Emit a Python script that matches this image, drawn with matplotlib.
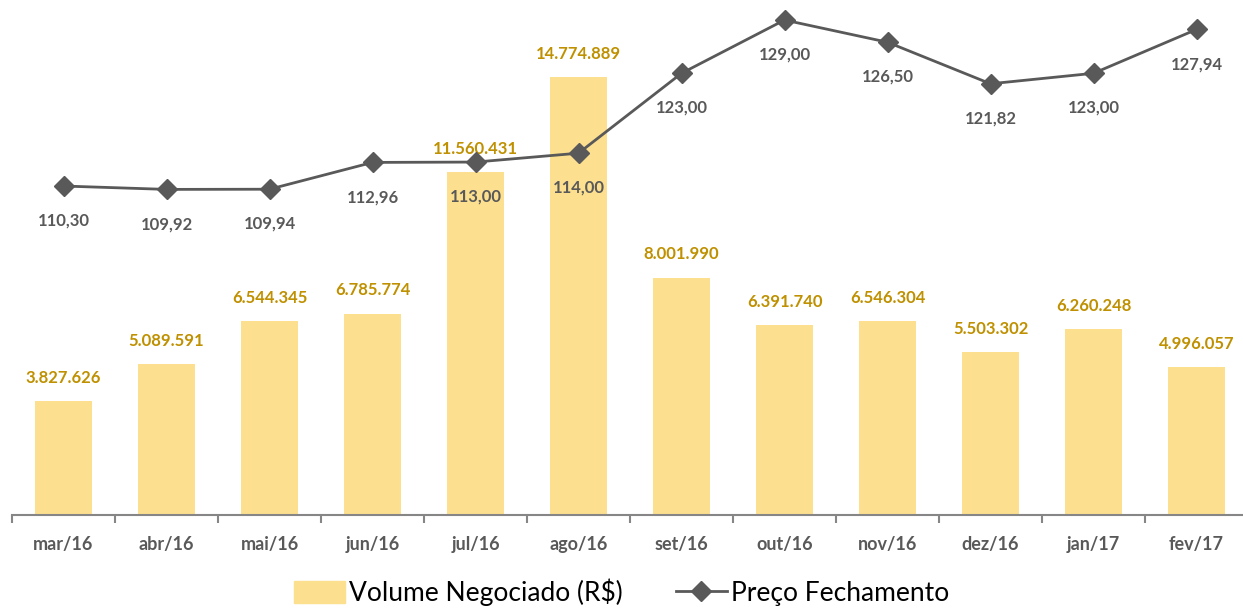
import matplotlib.pyplot as plt
from matplotlib.lines import Line2D
from matplotlib.patches import Patch
import numpy as np

plt.rcParams['font.family'] = ['Lato', 'DejaVu Sans']

meses = ['mar/16', 'abr/16', 'mai/16', 'jun/16', 'jul/16', 'ago/16',
         'set/16', 'out/16', 'nov/16', 'dez/16', 'jan/17', 'fev/17']
volume = [3827626, 5089591, 6544345, 6785774, 11560431, 14774889,
          8001990, 6391740, 6546304, 5503302, 6260248, 4996057]
preco = [110.30, 109.92, 109.94, 112.96, 113.00, 114.00,
         123.00, 129.00, 126.50, 121.82, 123.00, 127.94]

bar_color = '#FDE08F'
bar_txt = '#BF9000'
line_color = '#595959'

W, H = 1243, 608
fig = plt.figure(figsize=(W / 100, H / 100), dpi=100)
# axes: left 12px, width 12*103px, bottom at y=515, top at y=10
ax = fig.add_axes([12 / W, (H - 515) / H, 1236 / W, 505 / H])
ax2 = ax.twinx()

x = np.arange(len(meses))
ax.bar(x, volume, width=0.55, color=bar_color, zorder=1)
ax.set_xlim(-0.5, len(meses) - 0.5)
ax.set_ylim(0, 17.03e6)

for xi, v in zip(x, volume):
    lbl = f'{v:,}'.replace(',', '.')
    ax.annotate(lbl, (xi, v), xytext=(0, 11), textcoords='offset points',
                ha='center', va='bottom', fontsize=12, fontweight='bold',
                color=bar_txt)

ax2.plot(x, preco, color=line_color, lw=2, marker='D', markersize=10,
         zorder=3)
ax2.set_ylim(73.24, 130.13)
for xi, p in zip(x, preco):
    ax2.annotate(f'{p:.2f}'.replace('.', ','), (xi, p), xytext=(0, -25),
                 textcoords='offset points', ha='center', va='center',
                 fontsize=12, fontweight='bold', color=line_color)

# axes cosmetics
for a in (ax, ax2):
    for s in ['top', 'right', 'left']:
        a.spines[s].set_visible(False)
    a.set_yticks([])
ax2.spines['bottom'].set_visible(False)
ax.spines['bottom'].set_color('#868686')
ax.spines['bottom'].set_linewidth(1.5)
ax.set_xticks(x)
ax.set_xticklabels(meses, fontsize=13, fontweight='bold', color=line_color)
ax.tick_params(axis='x', which='major', length=0, pad=15)
ax.set_xticks(np.arange(-0.5, len(meses), 1), minor=True)
ax.tick_params(axis='x', which='minor', length=6, width=1.5, color='#868686')

handles = [Patch(color=bar_color, label='Volume Negociado (R$)'),
           Line2D([], [], color=line_color, lw=2, marker='D', markersize=10,
                  label='Preço Fechamento')]
fig.legend(handles=handles, loc='center', bbox_to_anchor=(0.5, 16 / H),
           ncol=2, frameon=False, fontsize=19, handlelength=1.95,
           handleheight=0.9, columnspacing=2.0, handletextpad=0.15)

fig.savefig('out.png', dpi=100)
